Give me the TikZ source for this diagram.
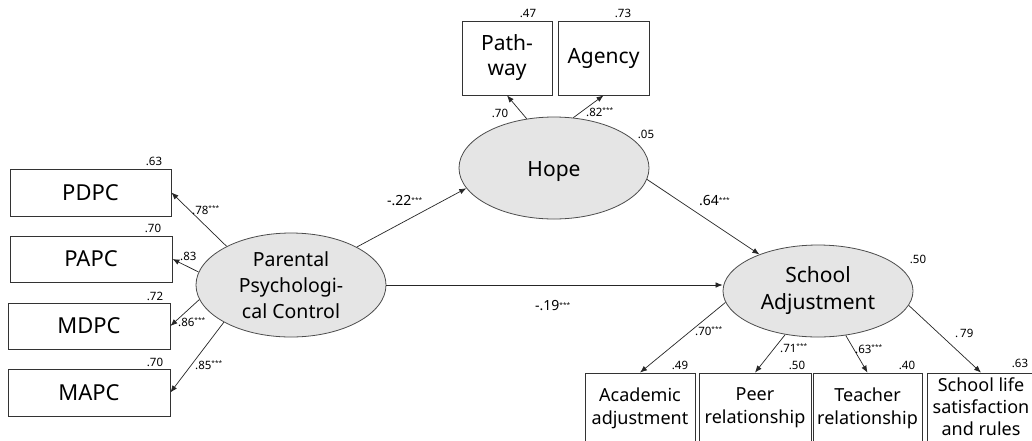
\documentclass[tikz,border=0pt]{standalone}
\usepackage{fontspec}
\setmainfont{Noto Sans}
\usetikzlibrary{shapes.geometric,arrows.meta}
\newcommand\stars{\raisebox{3.5pt}{\fontsize{6.5}{6.5}\selectfont ***}}
\begin{document}
\begin{tikzpicture}[x=1pt,y=-1pt,
  box/.style={draw=black!80,line width=0.8pt,inner sep=0,align=center},
  lat/.style={ellipse,draw=black!70,fill=black!10,line width=0.8pt,inner sep=0,align=center,minimum width=190,minimum height=#1},
  arr/.style={-{Latex[length=7pt,width=5.5pt]},line width=0.7pt,draw=black!85},
  lab/.style={font=\fontsize{11.5}{13}\selectfont,inner sep=0},
  plab/.style={font=\fontsize{14}{16}\selectfont,inner sep=0}]
\useasboundingbox (0,0) rectangle (1032,440);
\clip (0,0) rectangle (1032,440);
\fill[white] (0,0) rectangle (1032,440);

% indicator boxes, left
\node[box,minimum width=161,minimum height=47,font=\fontsize{22}{24}\selectfont] (pdpc) at (90.5,192.5) {PDPC};
\node[box,minimum width=162,minimum height=46,font=\fontsize{22}{24}\selectfont] (papc) at (91,259) {PAPC};
\node[box,minimum width=162,minimum height=46,font=\fontsize{22}{24}\selectfont] (mdpc) at (89,326) {MDPC};
\node[box,minimum width=162,minimum height=47,font=\fontsize{22}{24}\selectfont] (mapc) at (89,392.5) {MAPC};

% top boxes
\node[box,minimum width=90,minimum height=74,font=\fontsize{21}{25}\selectfont] (path) at (507,58) {Path-\\way};
\node[box,minimum width=91,minimum height=74,font=\fontsize{21}{25}\selectfont] (agen) at (603.5,58) {Agency};

% bottom boxes
\node[box,minimum width=110,minimum height=70,font=\fontsize{18}{23}\selectfont] (acad) at (640,408) {Academic\\adjustment};
\node[box,minimum width=112,minimum height=70,font=\fontsize{18}{23}\selectfont] (peer) at (755,408) {Peer\\relationship};
\node[box,minimum width=109,minimum height=70,font=\fontsize{18}{23}\selectfont] (teach) at (867.5,408) {Teacher\\relationship};
\node[box,minimum width=108,minimum height=70,font=\fontsize{18}{22}\selectfont] (life) at (981,408) {\raisebox{3pt}{School life}\\\raisebox{3pt}{satisfaction}\\\raisebox{3pt}{and rules}};

% latent variables
\node[lat=104,font=\fontsize{19.5}{26}\selectfont] (ppc) at (291,285) {Parental\\Psychologi-\\cal Control};
\node[lat=102,font=\fontsize{21}{24}\selectfont] (hope) at (554,168) {\raisebox{-8pt}[0pt][0pt]{Hope}};
\node[lat=92,font=\fontsize{21}{27}\selectfont] (sa) at (818,291) {School\\Adjustment};

% arrows
\draw[arr] (ppc.149) -- (pdpc.east);
\draw[arr] (ppc.172) -- (papc.east);
\draw[arr] (ppc.189) -- (mdpc.east);
\draw[arr] (ppc.209) -- (mapc.east);
\draw[arr] (hope.119) -- (path.south);
\draw[arr] (hope.69) -- (agen.south);
\draw[arr] (ppc.30) -- (hope.193);
\draw[arr] (hope.-7) -- (sa.148);
\draw[arr] (ppc.east) -- (ppc.east -| sa.west);
\draw[arr] (sa.187) -- (acad.north);
\draw[arr] (sa.233) -- (peer.north);
\draw[arr] (sa.302) -- (teach.north);
\draw[arr] (sa.351) -- (life.north);

% loadings and R2
\node[lab] (r1) at (154,161) {.63};
\node[lab] (r2) at (153,228) {.70};
\node[lab] (r3) at (155,296) {.72};
\node[lab] (r4) at (155,362) {.70};
\node[lab,anchor=west] (l1) at (192,210) {.78\stars};
\node[lab,anchor=west] (l2) at (180,256) {.83};
\node[lab,anchor=west] (l3) at (178,322) {.86\stars};
\node[lab,anchor=west] (l4) at (195,365) {.85\stars};

\node[lab] (r5) at (528,13) {.47};
\node[lab] (r6) at (623,13) {.73};
\node[lab] (l5) at (500,113) {.70};
\node[lab,anchor=west] (l6) at (586,112) {.82\stars};
\node[lab] (r7) at (646,134) {.05};

\node[plab,anchor=west] (p1) at (387,201) {-.22\stars};
\node[plab,anchor=west] (p2) at (699,201) {.64\stars};
\node[plab,anchor=west] (p3) at (535,306) {-.19\stars};

\node[lab] (r8) at (918,259) {.50};
\node[lab,anchor=west] (l7) at (695,331) {.70\stars};
\node[lab,anchor=west] (l8) at (780,348) {.71\stars};
\node[lab,anchor=west] (l9) at (855,349) {.63\stars};
\node[lab,anchor=west] (l10) at (955,333) {.\,79};
\node[lab] (r9) at (680,365) {.49};
\node[lab] (r10) at (797,365) {.50};
\node[lab] (r11) at (907,365) {.40};
\node[lab] (r12) at (1020,363) {.63};
\end{tikzpicture}
\end{document}
